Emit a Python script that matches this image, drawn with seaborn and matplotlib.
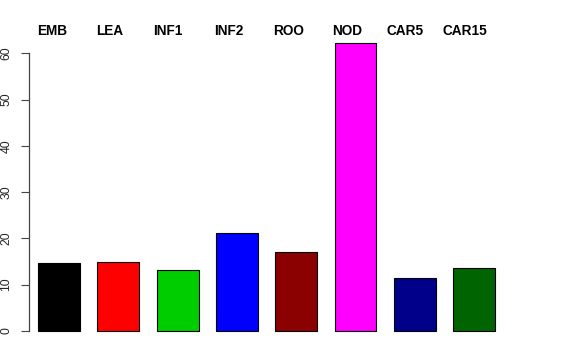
import matplotlib
matplotlib.use("Agg")
import matplotlib.pyplot as plt
import matplotlib.transforms as mtransforms
import seaborn as sns
import pandas as pd

categories = ["EMB", "LEA", "INF1", "INF2", "ROO", "NOD", "CAR5", "CAR15"]
values = [14.7, 14.8, 13.2, 21.1, 17.0, 62.3, 11.5, 13.5]
colors = ["#000000", "#FF0000", "#00CD00", "#0000FF", "#8B0000", "#FF00FF", "#00008B", "#006400"]
yticks = [0, 10, 20, 30, 40, 50, 60]

# label horizontal nudges in pixels relative to bar left edge (layout only)
label_nudge_px = [-1.3, -1.0, -3.0, -2.0, -2.3, -2.0, -7.0, -10.3]

sns.set_theme(style="white")
plt.rcParams["font.family"] = ["Liberation Sans", "DejaVu Sans"]

W, H, DPI = 576, 360, 100
fig = plt.figure(figsize=(W / DPI, H / DPI), dpi=DPI)

# axes placement in pixels
left_px, right_px = 29, 509.7
top_px, bottom_px = 31.0, 342.5
ax = fig.add_axes([left_px / W, 1 - bottom_px / H, (right_px - left_px) / W, (bottom_px - top_px) / H])

df = pd.DataFrame({"cat": categories, "val": values})
bar_w = 0.708
sns.barplot(data=df, x="cat", y="val", hue="cat", palette=colors, legend=False,
            width=bar_w, edgecolor="black", linewidth=0.8, saturation=1, ax=ax)

ax.set_xlim(-0.506, -0.506 + (right_px - left_px) / 59.3)
ax.set_ylim(-2.49, 64.8)

for s in ["top", "right", "bottom"]:
    ax.spines[s].set_visible(False)
ax.spines["left"].set_bounds(0, 60)
ax.spines["left"].set_color("#444444")
ax.spines["left"].set_linewidth(0.9)

ax.set_yticks(yticks)
ax.set_yticklabels([str(t) for t in yticks], rotation=90, va="center", fontsize=8.8)
ax.tick_params(axis="y", direction="out", length=5.8, width=0.8, color="#444444", pad=6.0, left=True)
ax.set_xticks([])
ax.set_xlabel("")
ax.set_ylabel("")
ax.grid(False)

trans = mtransforms.blended_transform_factory(ax.transData, fig.transFigure)
for i, (lab, nud) in enumerate(zip(categories, label_nudge_px)):
    t = mtransforms.offset_copy(trans, fig=fig, x=nud * 72 / DPI, y=0, units="points")
    ax.text(i - bar_w / 2, 1 - 35 / H, lab, transform=t, ha="left", va="baseline",
            fontsize=9.8, fontweight="bold", color="black", clip_on=False)

fig.savefig("out.png", dpi=DPI, facecolor="white")
